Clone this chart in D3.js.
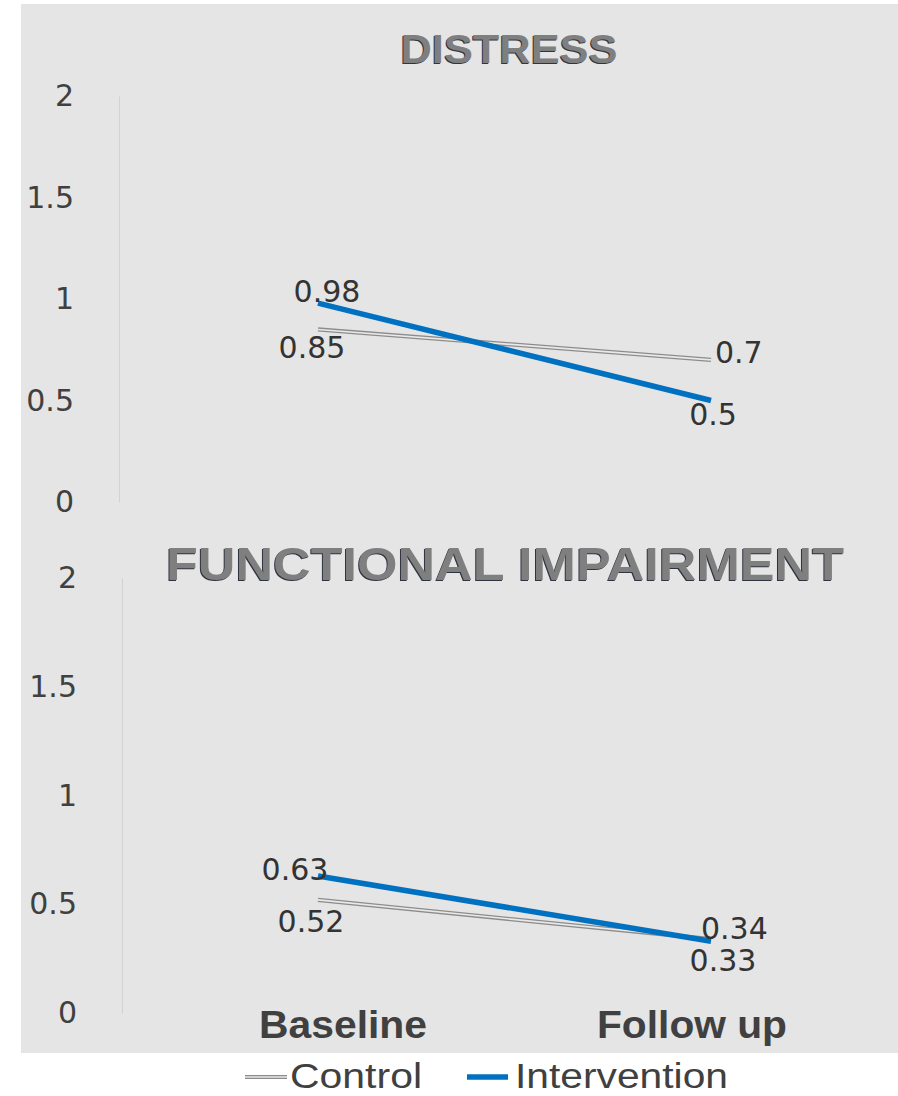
<!DOCTYPE html>
<html>
<head>
<meta charset="utf-8">
<script src="https://cdn.jsdelivr.net/npm/d3@7/dist/d3.min.js"></script>
<style>
  html, body { margin: 0; padding: 0; background: #ffffff; }
  svg { display: block; }
</style>
</head>
<body>
<div id="chart"></div>
<script>
// Chart data
const categories = ["Baseline", "Follow up"];
const seriesNames = ["Control", "Intervention"];
const yTicks = [0, 0.5, 1, 1.5, 2];
const panelTitles = ["DISTRESS", "FUNCTIONAL IMPAIRMENT"];
const distressControl = [0.85, 0.7];
const distressIntervention = [0.98, 0.5];
const impairmentControl = [0.52, 0.34];
const impairmentIntervention = [0.63, 0.33];

const W = 898, H = 1096;
const svg = d3.select("#chart").append("svg").attr("width", W).attr("height", H);

// plot-area background
svg.append("rect").attr("x", 21).attr("y", 4).attr("width", W - 21).attr("height", 1049)
  .attr("fill", "#e5e5e5");

const x = d3.scalePoint().domain(categories).range([318, 711]);
const xLabel = d3.scalePoint().domain(categories).range([343, 692]);

const BLUE = "#0070c0";
const GREY = "#8c8c8c";

// label placement per panel: [first point, last point] for each series
const panels = [
  {
    title: panelTitles[0], titleX: 509, titleY: 63, titleSize: 40, titleLen: 217,
    axisX: 119, yRange: [502, 96],
    series: [distressControl, distressIntervention],
    labels: {
      Control: [{dx: -6, dy: 29, anchor: "middle"}, {dx: 4, dy: 3, anchor: "start"}],
      Intervention: [{dx: 9, dy: -1, anchor: "middle"}, {dx: 2, dy: 24, anchor: "middle"}]
    }
  },
  {
    title: panelTitles[1], titleX: 505, titleY: 580, titleSize: 47, titleLen: 678,
    axisX: 122, yRange: [1013, 578],
    series: [impairmentControl, impairmentIntervention],
    labels: {
      Control: [{dx: -7, dy: 32, anchor: "middle"}, {dx: -10, dy: 0, anchor: "start"}],
      Intervention: [{dx: -23, dy: 4, anchor: "middle"}, {dx: 12, dy: 30, anchor: "middle"}]
    }
  }
];

function drawControlLine(g, path) {
  // double compound line: dark outer stroke with a light core
  g.append("path").attr("d", path).attr("fill", "none")
    .attr("stroke", GREY).attr("stroke-width", 4.2);
  g.append("path").attr("d", path).attr("fill", "none")
    .attr("stroke", "#e9e9e9").attr("stroke-width", 1.6);
}

panels.forEach(p => {
  const y = d3.scaleLinear().domain([0, 2]).range(p.yRange);
  const g = svg.append("g");

  // title with a dark edge beneath the grey fill
  [["#2e3440", -1, 1], ["#7f7f7f", 0, 0]].forEach(([fill, ox, oy]) => {
    g.append("text").text(p.title)
      .attr("x", p.titleX + ox).attr("y", p.titleY + oy)
      .attr("text-anchor", "middle")
      .attr("font-family", "Liberation Sans, Arial, sans-serif")
      .attr("font-weight", "bold").attr("font-size", p.titleSize)
      .attr("textLength", p.titleLen).attr("lengthAdjust", "spacingAndGlyphs")
      .attr("fill", fill);
  });

  // value axis
  const axis = d3.axisLeft(y).tickValues(yTicks).tickFormat(d3.format(""))
    .tickSize(0).tickPadding(45);
  const ag = g.append("g").attr("transform", `translate(${p.axisX},0)`).call(axis);
  ag.select(".domain").attr("stroke", "#d2d2d2").attr("stroke-width", 1);
  ag.selectAll("text").attr("font-family", "DejaVu Sans, sans-serif")
    .attr("font-size", 30).attr("fill", "#404040");

  const line = d3.line().x((d, i) => x(categories[i])).y(d => y(d));

  const [ctrl, intv] = p.series;
  drawControlLine(g, line(ctrl));
  g.append("path").attr("d", line(intv)).attr("fill", "none")
    .attr("stroke", BLUE).attr("stroke-width", 5.5);

  // data labels
  [[seriesNames[0], ctrl], [seriesNames[1], intv]].forEach(([name, vals]) => {
    vals.forEach((v, i) => {
      const o = p.labels[name][i];
      g.append("text").text(v)
        .attr("x", x(categories[i]) + o.dx).attr("y", y(v) + o.dy)
        .attr("text-anchor", o.anchor)
        .attr("font-family", "DejaVu Sans, sans-serif")
        .attr("font-size", 30).attr("fill", "#333333");
    });
  });
});

// category labels
const catLen = {"Baseline": 168, "Follow up": 190};
svg.append("g").selectAll("text").data(categories).join("text")
  .text(d => d)
  .attr("x", d => xLabel(d)).attr("y", 1038)
  .attr("text-anchor", "middle")
  .attr("font-family", "Liberation Sans, Arial, sans-serif")
  .attr("font-weight", "bold").attr("font-size", 39)
  .attr("textLength", d => catLen[d]).attr("lengthAdjust", "spacingAndGlyphs")
  .attr("fill", "#404040");

// legend
const legend = svg.append("g");
const legendItems = [
  {name: seriesNames[0], x0: 245, x1: 287, tx: 290, len: 132},
  {name: seriesNames[1], x0: 467, x1: 508, tx: 515, len: 213}
];
legendItems.forEach(it => {
  const path = `M${it.x0},1077H${it.x1}`;
  if (it.name === seriesNames[0]) drawControlLine(legend, path);
  else legend.append("path").attr("d", path).attr("stroke", BLUE).attr("stroke-width", 5.5);
  legend.append("text").text(it.name)
    .attr("x", it.tx).attr("y", 1088)
    .attr("font-family", "Liberation Sans, Arial, sans-serif")
    .attr("font-size", 35).attr("fill", "#404040")
    .attr("textLength", it.len).attr("lengthAdjust", "spacingAndGlyphs");
});
</script>
</body>
</html>
